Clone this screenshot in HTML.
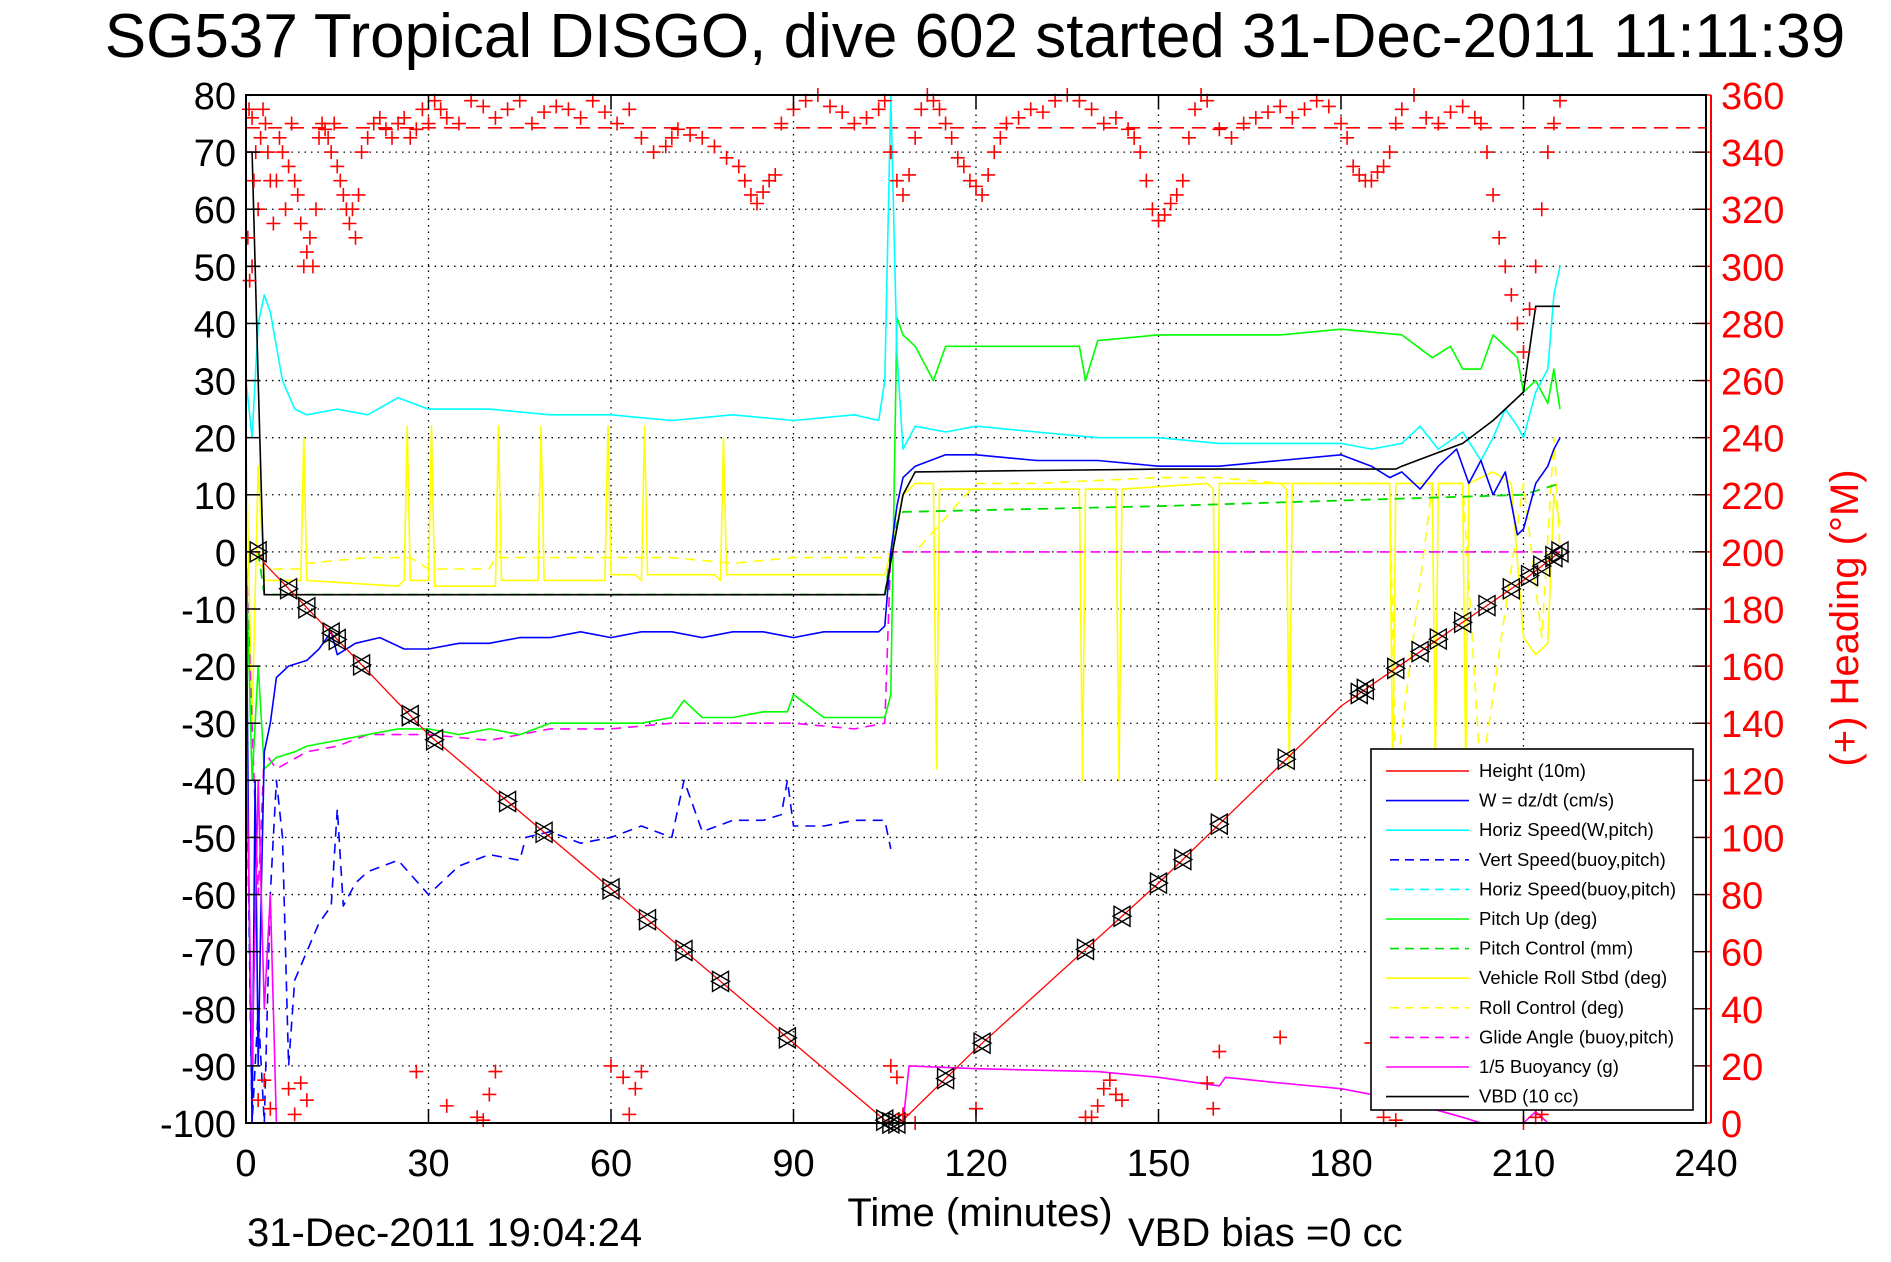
<!DOCTYPE html>
<html><head><meta charset="utf-8">
<style>
html,body{margin:0;padding:0;background:#fff;}
svg{display:block;font-family:"Liberation Sans",Arial,sans-serif;}
</style></head>
<body>
<svg id="chart" width="1891" height="1262" viewBox="0 0 1891 1262" xmlns="http://www.w3.org/2000/svg">
<rect width="1891" height="1262" fill="#fff"/>
<text x="975" y="57" font-size="62" text-anchor="middle" fill="#000">SG537 Tropical DISGO, dive 602 started 31-Dec-2011 11:11:39</text>
<g id="grid"></g>
<g id="series"></g>
<g id="axes"></g>
<text x="980" y="1226" font-size="40" text-anchor="middle">Time (minutes)</text>
<text x="1128" y="1246" font-size="40">VBD bias =0 cc</text>
<text x="247" y="1246" font-size="40">31-Dec-2011 19:04:24</text>
<text transform="translate(1858,618) rotate(-90)" font-size="40" fill="#f00" text-anchor="middle">(+) Heading (°M)</text>
<g id="legend"></g>
</svg>
<script>
// ---- data arrays ----
const xTicks = [0,30,60,90,120,150,180,210,240];
const yTicks = [80,70,60,50,40,30,20,10,0,-10,-20,-30,-40,-50,-60,-70,-80,-90,-100];
const hTicks = [0,20,40,60,80,100,120,140,160,180,200,220,240,260,280,300,320,340,360];

const heightT = [0,2,3,30,60,90,105,106,107,108,120,150,180,210,216];
const heightV = [0,0,-2,-32,-59,-86,-99.5,-100,-100,-99.5,-87,-58,-27,-5,0];
const markerT = [2,7,10,14,15,19,27,31,43,49,60,66,72,78,89,105,106,107,115,121,138,144,150,154,160,171,183,184,189,193,196,200,204,208,211,213,215,216];

const wT = [0,0.5,1,1.5,2,2.5,3,4,5,7,10,12,14,15,18,22,26,30,35,40,45,50,55,60,65,70,75,80,85,90,95,100,104,105,106,107,108,110,115,120,130,140,150,160,170,180,185,188,190,193,196,199,201,203,205,207,209,210,212,214,215,216];
const wV = [0,-60,-100,-40,-90,-60,-35,-30,-22,-20,-19,-17,-14,-18,-16,-15,-17,-17,-16,-16,-15,-15,-14,-15,-14,-14,-15,-14,-14,-15,-14,-14,-14,-13,0,8,13,15,17,17,16,16,15,15,16,17,15,13,14,11,15,18,12,16,10,14,3,4,12,15,18,20];

const hsT = [0,1,2,3,4,6,8,10,15,20,25,30,40,50,60,70,80,90,100,104,105,106,107,108,110,115,120,130,140,150,160,170,180,185,190,193,196,200,203,205,207,209,210,212,214,215,216];
const hsV = [30,20,40,45,42,30,25,24,25,24,27,25,25,24,24,23,24,23,24,23,30,80,35,18,22,21,22,21,20,20,19,19,19,18,19,22,18,21,16,20,25,22,20,28,32,45,50];

const vsT = [0,1,2,3,4,5,6,7,8,10,12,14,15,16,18,20,25,30,35,40,45,46,50,55,60,65,70,72,75,80,85,88,89,90,95,100,105,106];
const vsV = [-30,-100,-80,-100,-60,-40,-50,-90,-75,-70,-65,-62,-45,-62,-58,-56,-54,-60,-55,-53,-54,-50,-49,-51,-50,-48,-50,-40,-49,-47,-47,-46,-40,-48,-48,-47,-47,-52];

const pitchT = [0,1,2,3,5,8,10,15,20,25,30,35,40,45,50,60,65,70,72,75,80,85,89,90,95,100,105,106,107,108,110,113,115,120,130,137,138,140,150,160,170,180,190,195,198,200,203,205,207,209,210,212,214,215,216];
const pitchV = [0,-40,-20,-38,-36,-35,-34,-33,-32,-31,-31,-32,-31,-32,-30,-30,-30,-29,-26,-29,-29,-28,-28,-25,-29,-29,-29,-25,41,38,36,30,36,36,36,36,30,37,38,38,38,39,38,34,36,32,32,38,36,34,28,30,26,32,25];

const pcT = [2,3,105,106,107,108,150,180,210,216];
const pcV = [0,-7.5,-7.5,0,5,7,8,9,10,12];

const rollT = [0,1,2,3,5,8,9,9.5,10,25,26,26.5,27,29,30,30.5,31,41,41.5,42,47,48,48.5,49,58,59,59.5,60,64,65,65.5,66,77,78,78.5,79,105,106,108,110,113,113.5,114,136,137,137.5,138,142,143,143.5,144,158,159,159.5,160,170,171,171.5,172,187,188,188.5,189,194,195,195.5,196,199,200,200.5,201,205,208,210,212,214,215,216];
const rollV = [20,-30,15,-5,-5,-5,-5,20,-5,-6,-5,22,-5,-5,-5,22,-6,-6,22,-5,-5,-5,22,-5,-5,-5,22,-4,-4,-5,22,-4,-4,-5,20,-4,-4,0,10,12,12,-38,11,11,11,-40,11,11,11,-40,11,12,11,-40,12,12,11,-38,12,12,12,-40,12,12,12,-38,12,12,12,-38,12,14,12,-15,-18,-16,10,5];

const rcT = [0,3,9,10,20,26,27,30,40,41,45,48,55,58,60,70,80,90,100,105,106,110,120,130,150,160,170,180,188,189,195,200,203,210,213,215,216];
const rcV = [0,-3,-3,-2,-1,-1,-1,-3,-3,-1,-1,-1,-1,-1,-1,-1,-2,-1,-1,-1,0,0,12,12,13,13,12,12,12,-40,12,12,-40,12,-15,20,0];

const glideT = [0,2,3,5,10,15,20,30,40,50,60,70,80,90,100,105,106,107,216];
const glideV = [0,-60,-35,-38,-35,-34,-32,-32,-33,-31,-31,-30,-30,-30,-31,-30,0,0,0];

const buoyT = [0,1,2,3,4,5,108,109,120,140,150,160,161,170,180,190,200,203,210,212,214,216];
const buoyV = [-30,-90,-40,-80,-60,-100,-100,-90,-90.5,-91,-92,-93.5,-92,-93,-94,-96,-99,-100,-100,-98,-100,-100];

const vbdT = [0,1,2,3,105,108,110,150,189,190,195,200,205,210,212,216];
const vbdV = [70,70,30,-7.5,-7.5,10,14,14.5,14.5,15,17,19,23,28,43,43];

const headT = [0.3,0.6,1,1.3,1.6,2,2.4,2.8,3.2,3.6,4,4.5,5,5.5,6,6.5,7,7.5,8,8.5,9,9.5,10,10.5,11,11.5,12,12.5,13,13.5,14,14.5,15,15.5,16,16.5,17,17.5,18,18.5,19,20,21,22,23,24,25,26,27,28,29,30,31,32,33,35,37,39,41,43,45,47,49,51,53,55,57,59,61,63,65,67,69,70,71,73,75,77,79,81,82,83,84,85,86,87,88,90,92,94,96,98,100,102,104,105,106,107,108,109,110,111,112,113,114,115,116,117,118,119,120,121,122,123,124,125,127,129,131,133,135,137,139,141,143,145,146,147,148,149,150,151,152,153,154,155,156,157,158,160,162,164,166,168,170,172,174,176,178,180,181,182,183,184,185,186,187,188,189,190,192,194,196,198,200,202,203,204,205,206,207,208,209,210,211,212,213,214,215,216,
  0.5,1,2,3,4,7,8,9,10,28,33,38,39,40,41,60,62,63,64,65,106,107,108,110,120,138,139,140,141,142,143,144,158,159,160,170,185,187,189,210,212,213];
const headV = [310,295,300,330,340,320,345,355,350,340,330,315,330,345,340,320,335,350,330,325,315,300,305,310,300,320,345,350,348,345,340,350,335,330,325,320,315,320,310,325,340,345,350,352,348,345,350,352,345,348,355,350,358,355,352,350,358,356,352,355,358,350,354,356,355,352,358,354,350,355,345,340,342,345,348,346,345,342,338,335,330,325,322,326,330,332,350,355,358,360,356,354,350,352,355,358,340,330,325,332,345,355,360,358,355,350,345,338,335,330,328,325,332,340,345,350,352,355,354,358,360,358,355,350,352,348,345,340,330,320,316,318,322,325,330,345,355,360,358,348,345,350,352,354,356,352,355,358,356,350,345,335,332,330,330,333,335,340,350,355,360,352,350,354,356,352,350,340,325,310,300,290,280,270,285,300,320,340,350,358,355,352,
  8,15,5,12,3,14,8,18,6,2,1,10,18,20,16,3,12,18,20,16,3,0,5,2,2,6,12,15,10,8,14,5,25,30,28,2,1,0,2,3,5,1];
const headRef = 348.5;

// ---- scales ----
const L=246,R=1706,T=95,B=1123;
function xs(t){return L+t/240*(R-L);}
function ys(v){return T+(80-v)/180*(B-T);}
function hs(h){return B-h/360*(B-T);}
const NS='http://www.w3.org/2000/svg';
function mk(tag,attrs,parent){const e=document.createElementNS(NS,tag);for(const k in attrs)e.setAttribute(k,attrs[k]);parent.appendChild(e);return e;}

const grid=document.getElementById('grid'), axes=document.getElementById('axes'), ser=document.getElementById('series'), leg=document.getElementById('legend');

xTicks.forEach(t=>{
  if(t>0&&t<240){const g=mk('line',{x1:xs(t),x2:xs(t),y1:T,y2:B,stroke:'#000','stroke-width':1.3,'stroke-dasharray':'1.5,5'},grid);
  
  }
  const tl=mk('text',{x:xs(t),y:1176,'font-size':38,'text-anchor':'middle'},axes);
  tl.textContent=t;
  
  
  mk('line',{x1:xs(t),x2:xs(t),y1:B,y2:B-14,stroke:'#000','stroke-width':1.5},axes);
  mk('line',{x1:xs(t),x2:xs(t),y1:T,y2:T+14,stroke:'#000','stroke-width':1.5},axes);
});
yTicks.forEach(v=>{
  if(v<80&&v>-100){const g=mk('line',{x1:L,x2:R,y1:ys(v),y2:ys(v),stroke:'#000','stroke-width':1.3,'stroke-dasharray':'1.5,5'},grid);
  
  }
  const tl=mk('text',{x:236,y:ys(v)+14,'font-size':38,'text-anchor':'end'},axes);
  tl.textContent=v;
  
  
  mk('line',{x1:L,x2:L+14,y1:ys(v),y2:ys(v),stroke:'#000','stroke-width':1.5},axes);
});
hTicks.forEach(h=>{
  const tl=mk('text',{x:1721,y:hs(h)+14,'font-size':38,fill:'#f00'},axes);
  tl.textContent=h;
  
  
  mk('line',{x1:1711,x2:1697,y1:hs(h),y2:hs(h),stroke:'#f00','stroke-width':1.5},axes);
  mk('line',{x1:1706,x2:1692,y1:hs(h),y2:hs(h),stroke:'#000','stroke-width':1.2},axes);
});
const box=mk('rect',{x:L,y:T,width:R-L,height:B-T,fill:'none',stroke:'#000','stroke-width':2},axes);


const rax=mk('line',{x1:1711,x2:1711,y1:T,y2:B,stroke:'#f00','stroke-width':2},axes);



function line(ts,vs,color,dash,name,w,sc){
  const f=sc||ys;
  const pts=ts.map((t,i)=>xs(t).toFixed(1)+','+f(vs[i]).toFixed(1)).join(' ');
  const p=mk('polyline',{points:pts,fill:'none',stroke:color,'stroke-width':w||1.6,'stroke-dasharray':dash||'none','stroke-linejoin':'round'},ser);
  
  
  return p;
}
const href=mk('line',{x1:L,x2:R,y1:hs(headRef),y2:hs(headRef),stroke:'#f00','stroke-width':1.6,'stroke-dasharray':'14,8'},ser);



line(rcT,rcV,'#ff0','10,7','roll-control-line',1.6);
line(rollT,rollV,'#ff0',null,'vehicle-roll-line',1.6);
line(pcT,pcV,'#0d0','10,7','pitch-control-line',1.8);
line(glideT,glideV,'#f0f','10,7','glide-angle-line',1.6);
line(pitchT,pitchV,'#0f0',null,'pitch-up-line',1.6);
line(vsT,vsV,'#00f','10,7','vert-speed-buoy-line',1.6);
line(hsT,hsV,'#0ff',null,'horiz-speed-w-line',1.6);
line(wT,wV,'#00f',null,'w-dzdt-line',1.6);
line(buoyT,buoyV,'#f0f',null,'buoyancy-line',1.6);
line(vbdT,vbdV,'#000',null,'vbd-line',1.6);
line(heightT,heightV,'#f00',null,'height-line',1.3);

function interp(ts,vs,t){for(let i=1;i<ts.length;i++){if(t<=ts[i]){const f=(t-ts[i-1])/(ts[i]-ts[i-1]||1);return vs[i-1]+f*(vs[i]-vs[i-1]);}}return vs[vs.length-1];}
markerT.forEach(t=>{
  const x=xs(t),y=ys(interp(heightT,heightV,t));
  const m1=mk('polygon',{points:`${x-8},${y-10} ${x+9},${y} ${x-8},${y+10}`,fill:'none',stroke:'#000','stroke-width':1.4},ser);
  
  
  const m2=mk('polygon',{points:`${x+8},${y-10} ${x-9},${y} ${x+8},${y+10}`,fill:'none',stroke:'#000','stroke-width':1.4},ser);
  
  
});
headT.forEach((t,i)=>{
  const x=xs(t),y=hs(headV[i]);
  const p=mk('path',{d:`M${x-7},${y}H${x+7}M${x},${y-7}V${y+7}`,stroke:'#f00','stroke-width':1.6,fill:'none'},ser);
  
  
});

const legNames=['Height (10m)','W = dz/dt (cm/s)','Horiz Speed(W,pitch)','Vert Speed(buoy,pitch)','Horiz Speed(buoy,pitch)','Pitch Up (deg)','Pitch Control (mm)','Vehicle Roll Stbd (deg)','Roll Control (deg)','Glide Angle (buoy,pitch)','1/5 Buoyancy (g)','VBD (10 cc)'];
const legColors=['#f00','#00f','#0ff','#00f','#0ff','#0f0','#0d0','#ff0','#ff0','#f0f','#f0f','#000'];
const legDash=[0,0,0,1,1,0,1,0,1,1,0,0];
const lb=mk('rect',{x:1371,y:749,width:322,height:361,fill:'#fff',stroke:'#000','stroke-width':1.6},leg);


legNames.forEach((n,i)=>{
  const y=771+i*29.6;
  const g=mk('g',{},leg);
  
  
  mk('line',{x1:legDash[i]?1390:1386,x2:1469,y1:y,y2:y,stroke:legColors[i],'stroke-width':1.6,'stroke-dasharray':legDash[i]?'9,6':'none'},g);
  const tx=mk('text',{x:1479,y:y+6,'font-size':18.5},g);
  tx.textContent=n;
});
</script>
</body></html>
